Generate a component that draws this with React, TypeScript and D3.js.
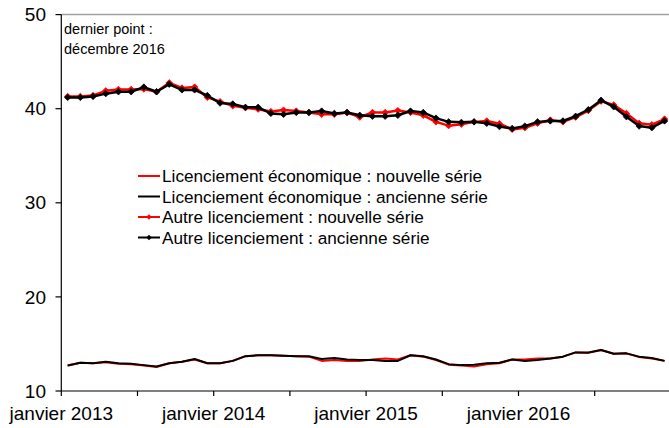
import React from "react";
import * as d3 from "d3";

const months: string[] = d3
  .timeMonths(new Date(2013, 0, 1), new Date(2017, 0, 1))
  .map((d) => d3.timeFormat("%Y-%m")(d));

const tickLabels = ["janvier 2013", "janvier 2014", "janvier 2015", "janvier 2016"];
const tickLabelIndex = [0, 12, 24, 36];
const yTicks = [10, 20, 30, 40, 50];

const ecoNouvelle = [
  12.7, 13.0, 12.95, 13.05, 12.9, 12.85, 12.7, 12.55, 12.95, 13.1, 13.35, 12.95,
  12.95, 13.2, 13.7, 13.8, 13.8, 13.75, 13.7, 13.65, 13.2, 13.3, 13.2, 13.2,
  13.35, 13.45, 13.35, 13.8, 13.65, 13.3, 12.8, 12.7, 12.6, 12.85, 12.95, 13.35,
  13.35, 13.45, 13.45, 13.65, 14.1, 14.05, 14.35, 13.95, 14.0, 13.6, 13.45, 13.2,
];
const ecoAncienne = [
  12.7, 13.0, 12.95, 13.1, 12.95, 12.9, 12.75, 12.6, 12.95, 13.1, 13.4, 12.95,
  12.95, 13.2, 13.7, 13.8, 13.8, 13.75, 13.7, 13.7, 13.4, 13.5, 13.35, 13.3,
  13.3, 13.2, 13.2, 13.8, 13.7, 13.35, 12.85, 12.75, 12.8, 12.95, 13.0, 13.35,
  13.2, 13.3, 13.45, 13.65, 14.1, 14.1, 14.35, 13.95, 14.0, 13.65, 13.5, 13.2,
];
const autreNouvelle = [
  41.3, 41.3, 41.4, 41.9, 42.05, 42.05, 42.1, 41.8, 42.75, 42.2, 42.3, 41.2,
  40.75, 40.3, 40.1, 39.95, 39.7, 39.85, 39.75, 39.6, 39.4, 39.4, 39.6, 39.1,
  39.6, 39.6, 39.8, 39.6, 39.3, 38.6, 38.2, 38.35, 38.6, 38.7, 38.4, 37.8,
  37.98, 38.45, 38.8, 38.6, 39.1, 39.8, 40.8, 40.4, 39.5, 38.45, 38.3, 38.9,
];
const autreAncienne = [
  41.2, 41.2, 41.3, 41.6, 41.8, 41.8, 42.3, 41.8, 42.6, 42.0, 42.0, 41.4,
  40.6, 40.5, 40.15, 40.15, 39.5, 39.4, 39.6, 39.6, 39.75, 39.5, 39.6, 39.3,
  39.2, 39.2, 39.3, 39.75, 39.6, 39.0, 38.6, 38.55, 38.6, 38.45, 38.1, 37.9,
  38.15, 38.6, 38.7, 38.7, 39.2, 39.9, 40.9, 40.2, 39.15, 38.15, 37.98, 38.7,
];

const seriesNames = [
  "Licenciement économique : nouvelle série",
  "Licenciement économique : ancienne série",
  "Autre licenciement : nouvelle série",
  "Autre licenciement : ancienne série",
];

const FONT = "'Liberation Sans', Arial, sans-serif";

export default function App() {
  const W = 669;
  const H = 428;
  const x = d3.scaleLinear().domain([0, months.length]).range([61.3, 670.9]);
  const y = d3.scaleLinear().domain([10, 50]).range([391, 14.6]);
  const cx = (i: number) => x(i + 0.5);

  const line = d3
    .line<number>()
    .x((_, i) => cx(i))
    .y((d) => y(d));

  const series = [
    { name: seriesNames[0], data: ecoNouvelle, color: "#ff0000", marker: false, w: 2 },
    { name: seriesNames[1], data: ecoAncienne, color: "#000000", marker: false, w: 2 },
    { name: seriesNames[2], data: autreNouvelle, color: "#ff0000", marker: true, w: 2.5 },
    { name: seriesNames[3], data: autreAncienne, color: "#000000", marker: true, w: 2.5 },
  ];

  const diamond = (px: number, py: number, r: number) =>
    `M${px},${py - r}L${px + r},${py}L${px},${py + r}L${px - r},${py}Z`;

  const xTicks = d3.range(0, months.length + 1, 6);

  const legendX = 138;
  const legendY = [176, 196.5, 217, 237.5];

  return (
    <svg
      width={W}
      height={H}
      style={{ position: "absolute", left: 0, top: 0, background: "#fff" }}
      fontFamily={FONT}
    >
      <rect x={0} y={0} width={W} height={H} fill="#fff" />
      {/* top border */}
      <line x1={61.3} x2={W} y1={y(50)} y2={y(50)} stroke="#a0a0a0" strokeWidth={1.5} />
      {/* y axis */}
      <line x1={61.3} x2={61.3} y1={y(50)} y2={y(10)} stroke="#000" strokeWidth={1.2} />
      {yTicks.map((t) => (
        <g key={t}>
          <line x1={55.5} x2={61.3} y1={y(t)} y2={y(t)} stroke="#000" strokeWidth={1.2} />
          <text x={46} y={y(t)} dy="0.35em" textAnchor="end" fontSize={19} fill="#000">
            {t}
          </text>
        </g>
      ))}
      {/* x axis */}
      <line x1={61.3} x2={W} y1={y(10)} y2={y(10)} stroke="#000" strokeWidth={1.2} />
      {xTicks.map((t) => (
        <line key={t} x1={x(t)} x2={x(t)} y1={y(10)} y2={y(10) + 5} stroke="#000" strokeWidth={1.2} />
      ))}
      {tickLabels.map((lab, k) => (
        <text key={lab} x={x(tickLabelIndex[k])} y={420} textAnchor="middle" fontSize={19} fill="#000">
          {lab}
        </text>
      ))}
      {/* annotation */}
      <text x={64} y={34} fontSize={14.5} fill="#000">dernier point :</text>
      <text x={64} y={54} fontSize={14.5} fill="#000">décembre 2016</text>
      {/* series */}
      {series.map((s) => (
        <g key={s.name}>
          <path d={line(s.data) || ""} fill="none" stroke={s.color} strokeWidth={s.w} strokeLinejoin="round" />
          {s.marker &&
            s.data.map((v, i) => (
              <path key={i} d={diamond(cx(i), y(v), 3.2)} fill={s.color} stroke={s.color} strokeWidth={0.8} />
            ))}
        </g>
      ))}
      {/* legend */}
      {series.map((s, k) => (
        <g key={"lg" + k}>
          <line x1={legendX} x2={legendX + 22} y1={legendY[k]} y2={legendY[k]} stroke={s.color} strokeWidth={2} />
          {s.marker && <path d={diamond(legendX + 11, legendY[k], 2.8)} fill={s.color} />}
          <text x={legendX + 24} y={legendY[k]} dy="0.35em" fontSize={17.2} fill="#000">
            {s.name}
          </text>
        </g>
      ))}
    </svg>
  );
}
